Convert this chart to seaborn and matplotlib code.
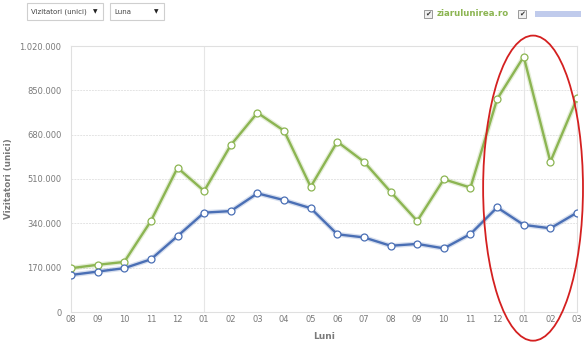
import matplotlib
matplotlib.use("Agg")
import matplotlib.pyplot as plt
import seaborn as sns
import pandas as pd
import numpy as np
from matplotlib.patches import Ellipse, Rectangle

months = ["08", "09", "10", "11", "12", "01", "02", "03", "04", "05",
          "06", "07", "08", "09", "10", "11", "12", "01", "02", "03"]
green_vals = [168000, 181000, 192000, 349000, 553000, 464000, 640000, 764000, 695000, 480000,
              653000, 576000, 461000, 349000, 509000, 477000, 816000, 979000, 576000, 819000]
blue_vals = [142000, 155000, 168000, 202000, 291000, 381000, 387000, 455000, 429000, 398000,
             298000, 286000, 254000, 261000, 244000, 299000, 401000, 334000, 321000, 381000]
y_ticks = [0, 170000, 340000, 510000, 680000, 850000, 1020000]
y_tick_labels = ["0", "170.000", "340.000", "510.000", "680.000", "850.000", "1.020.000"]
series_names = ["ziarulunirea.ro", "other"]

GREEN = "#8cb552"
BLUE = "#4a6fb5"
GRAY = "#7a7a7a"

idx = list(range(len(months)))
df = pd.DataFrame({
    "idx": idx * 2,
    "value": green_vals + blue_vals,
    "site": [series_names[0]] * len(idx) + [series_names[1]] * len(idx),
})

sns.set_style("white")
plt.rcParams["font.family"] = ["DejaVu Sans"]

fig = plt.figure(figsize=(5.85, 3.48), dpi=100)
ax = fig.add_axes([71 / 585, 1 - 312 / 348, (577 - 71) / 585, (312 - 46) / 348])

# soft glow under the lines
for vals, col in [(green_vals, GREEN), (blue_vals, BLUE)]:
    ax.plot(idx, vals, color=col, lw=3.6, alpha=0.22, solid_capstyle="round", zorder=2)

sns.lineplot(data=df, x="idx", y="value", hue="site",
             palette={series_names[0]: GREEN, series_names[1]: BLUE},
             linewidth=1.7, marker="o", markersize=5, markerfacecolor="white",
             markeredgewidth=0.9, legend=False, ax=ax, zorder=3)
for line, col in zip(ax.lines[-2:], [GREEN, BLUE]):
    line.set_markeredgecolor(col)

ax.set_xlim(0, len(months) - 1)
ax.set_ylim(0, 1020000)
ax.set_yticks(y_ticks)
ax.set_yticklabels(y_tick_labels)
ax.set_xticks(idx)
ax.set_xticklabels(months)
ax.tick_params(axis="both", labelsize=6.0, colors=GRAY, length=0)
ax.tick_params(axis="y", pad=7)
ax.tick_params(axis="x", pad=2)

ax.grid(axis="y", color="#e4e4e4", lw=0.7, linestyle=(0, (2, 1)))
for xv in [5, 17]:
    ax.axvline(xv, color="#e6e6e6", lw=0.8, zorder=0)
for s in ax.spines.values():
    s.set_color("#e0e0e0")
    s.set_linewidth(0.8)

ax.set_xlabel("Luni", fontsize=6.5, color=GRAY, fontweight="bold", labelpad=6)
ax.set_ylabel("Vizitatori (unici)", fontsize=6.3, color=GRAY, fontweight="bold")
ax.yaxis.set_label_coords((13 - 71) / 506, 0.5)

# red ellipse annotation
ell = Ellipse((17.35, 475000), width=3.75, height=1170000, fill=False,
              edgecolor="#d42020", lw=1.3, clip_on=False, zorder=5)
ax.add_patch(ell)

def px(x, y):
    return x / 585, 1 - y / 348

# top controls (dropdowns)
for (x0, x1, label) in [(27, 103, "Vizitatori (unici)"), (110, 164, "Luna")]:
    fx, fy = px(x0, 20)
    fig.patches.append(Rectangle((fx, fy), (x1 - x0) / 585, 17 / 348, transform=fig.transFigure,
                                 facecolor="white", edgecolor="#cfcfcf", lw=0.8))
    tx, ty = px(x0 + 4, 11.5)
    fig.text(tx, ty, label, fontsize=5.0, color="#444444", va="center", ha="left")
    ax_, ay_ = px(x1 - 8, 11.5)
    fig.text(ax_, ay_, "▼", fontsize=4.2, color="#222222", va="center", ha="center")

# legend checkboxes
for cx in [428, 522]:
    fx, fy = px(cx - 4, 18)
    fig.patches.append(Rectangle((fx, fy), 8 / 585, 8 / 348, transform=fig.transFigure,
                                 facecolor="#f0f0f0", edgecolor="#9a9a9a", lw=0.7))
    tx, ty = px(cx, 14)
    fig.text(tx, ty, "✔", fontsize=5, color="#333333", va="center", ha="center")
tx, ty = px(437, 14)
fig.text(tx, ty, series_names[0], fontsize=6.2, color=GREEN, fontweight="bold", va="center", ha="left")
fx, fy = px(535, 17)
fig.patches.append(Rectangle((fx, fy), 46 / 585, 6 / 348, transform=fig.transFigure,
                             facecolor="#b9c6ea", edgecolor="none", alpha=0.9))

fig.savefig("out.png", dpi=100)
